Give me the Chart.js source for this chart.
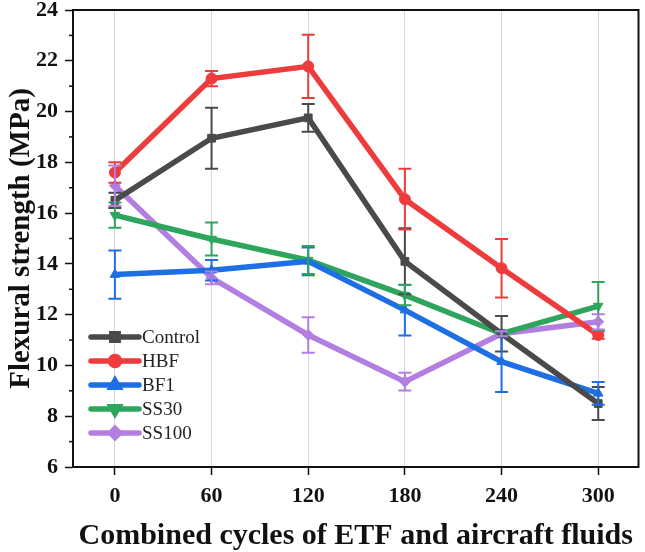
<!DOCTYPE html>
<html>
<head>
<meta charset="utf-8">
<script src="https://cdn.jsdelivr.net/npm/chart.js@4.4.0/dist/chart.umd.min.js"></script>
<style>
  html, body { margin: 0; padding: 0; background: #fff; }
  #wrap { width: 645px; height: 552px; }
</style>
</head>
<body>
<div id="wrap"><canvas id="flexural" width="645" height="552"></canvas></div>
<script>
// cycles of ETF + aircraft fluids
const cycles = [0, 60, 120, 180, 240, 300];
const yTicks = [6, 8, 10, 12, 14, 16, 18, 20, 22, 24];
const yMinorTicks = [7, 9, 11, 13, 15, 17, 19, 21, 23];

const control = [16.5, 18.95, 19.75, 14.1, 11.25, 8.5];
const controlErr = [0.3, 1.2, 0.55, 1.3, 0.7, 0.65];
const hbf = [17.6, 21.3, 21.78, 16.55, 13.83, 11.2];
const hbfErr = [0.4, 0.3, 1.25, 1.2, 1.15, 0.15];
const bf1 = [13.58, 13.75, 14.1, 12.18, 10.15, 8.9];
const bf1Err = [0.95, 0.4, 0.55, 1.0, 1.2, 0.45];
const ss30 = [15.92, 14.98, 14.15, 12.77, 11.25, 12.34];
const ss30Err = [0.5, 0.65, 0.55, 0.4, 0.1, 0.95];
const ss100 = [17.08, 13.45, 11.2, 9.36, 11.25, 11.72];
const ss100Err = [0.8, 0.25, 0.7, 0.35, 0.1, 0.3];

const seriesNames = ["Control", "HBF", "BF1", "SS30", "SS100"];
const seriesColors = ["#4a4a4a", "#ee3b3b", "#1d6fe3", "#2ea55c", "#b27fe0"];

const serif = "'Liberation Serif', 'Times New Roman', serif";

function makeSet(i, values, errs, pointStyle, rotation) {
  return {
    label: seriesNames[i],
    data: cycles.map((c, k) => ({ x: c, y: values[k] })),
    errors: errs,
    borderColor: seriesColors[i],
    backgroundColor: seriesColors[i],
    borderWidth: 5.5,
    pointStyle: pointStyle,
    rotation: rotation || 0,
    pointRadius: 5.5,
    pointBorderWidth: 1,
    tension: 0,
  };
}

// error bars drawn with the scales
const errorBars = {
  id: "errorBars",
  afterDatasetsDraw(chart) {
    const ctx = chart.ctx;
    const xs = chart.scales.x, ys = chart.scales.y;
    chart.data.datasets.forEach((ds) => {
      ctx.save();
      ctx.strokeStyle = ds.borderColor;
      ctx.lineWidth = 2;
      ds.data.forEach((p, k) => {
        const e = ds.errors[k];
        const px = xs.getPixelForValue(p.x);
        const top = ys.getPixelForValue(p.y + e);
        const bot = ys.getPixelForValue(p.y - e);
        ctx.beginPath();
        ctx.moveTo(px, top); ctx.lineTo(px, bot);
        ctx.moveTo(px - 6.5, top); ctx.lineTo(px + 6.5, top);
        ctx.moveTo(px - 6.5, bot); ctx.lineTo(px + 6.5, bot);
        ctx.stroke();
      });
      ctx.restore();
    });
  },
};

// frame, minor ticks, legend inside plot
const decorations = {
  id: "decorations",
  afterDraw(chart) {
    const ctx = chart.ctx;
    const a = chart.chartArea;
    const ys = chart.scales.y;
    ctx.save();
    ctx.strokeStyle = "#111";
    ctx.lineWidth = 2;
    ctx.strokeRect(a.left, a.top, a.right - a.left, a.bottom - a.top);
    ctx.lineWidth = 1.5;
    yMinorTicks.forEach((v) => {
      const py = ys.getPixelForValue(v);
      ctx.beginPath();
      ctx.moveTo(a.left - 4, py);
      ctx.lineTo(a.left, py);
      ctx.stroke();
    });

    const lx = a.left + 18, ly = 337, gap = 24;
    chart.data.datasets.forEach((ds, i) => {
      const y = ly + i * gap;
      ctx.strokeStyle = ds.borderColor;
      ctx.lineWidth = 5.5;
      ctx.lineCap = "round";
      ctx.beginPath();
      ctx.moveTo(lx, y);
      ctx.lineTo(lx + 48, y);
      ctx.stroke();
      ctx.fillStyle = ds.backgroundColor;
      Chart.helpers.drawPoint(ctx, {
        pointStyle: ds.pointStyle,
        rotation: ds.rotation,
        radius: 4.5,
        borderWidth: 1,
      }, lx + 24, y);
      ctx.fillStyle = "#222";
      ctx.font = "19px " + serif;
      ctx.textBaseline = "middle";
      ctx.fillText(ds.label, lx + 51, y + 1);
    });
    ctx.restore();
  },
};

new Chart(document.getElementById("flexural"), {
  type: "line",
  data: {
    datasets: [
      makeSet(0, control, controlErr, "rect"),
      makeSet(1, hbf, hbfErr, "circle"),
      makeSet(2, bf1, bf1Err, "triangle"),
      makeSet(3, ss30, ss30Err, "triangle", 180),
      makeSet(4, ss100, ss100Err, "rectRot"),
    ],
  },
  options: {
    responsive: false,
    animation: false,
    layout: { padding: { top: 10, right: 1, left: 0, bottom: 0 } },
    plugins: { legend: { display: false }, tooltip: { enabled: false } },
    scales: {
      x: {
        type: "linear",
        min: -26,
        max: 325,
        afterBuildTicks: (scale) => {
          scale.ticks = cycles.map((v) => ({ value: v }));
        },
        afterFit: (scale) => {
          scale.height = 85;
          scale.paddingLeft = 0;
          scale.paddingRight = 0;
        },
        grid: {
          color: "#d6d6d6",
          lineWidth: 1,
          tickColor: "#111",
          tickLength: 8,
          tickWidth: 1.5,
        },
        border: { color: "#111", width: 2 },
        ticks: {
          color: "#111",
          font: { family: serif, size: 22, weight: "bold" },
          padding: 8,
        },
        title: {
          display: true,
          text: "Combined cycles of ETF and aircraft fluids",
          color: "#111",
          font: { family: serif, size: 30, weight: "bold", lineHeight: 1.05 },
          padding: { top: 14, bottom: 0 },
        },
      },
      y: {
        min: 6,
        max: 24,
        afterBuildTicks: (scale) => {
          scale.ticks = yTicks.map((v) => ({ value: v }));
        },
        afterFit: (scale) => {
          scale.width = 73;
          scale.paddingTop = 0;
          scale.paddingBottom = 0;
        },
        grid: {
          drawOnChartArea: false,
          tickColor: "#111",
          tickLength: 8,
          tickWidth: 1.5,
        },
        border: { color: "#111", width: 2 },
        ticks: {
          color: "#111",
          font: { family: serif, size: 22, weight: "bold" },
          padding: 7,
        },
        title: {
          display: true,
          text: "Flexural strength (MPa)",
          color: "#111",
          font: { family: serif, size: 29, weight: "bold" },
          padding: { top: 4, bottom: 0 },
        },
      },
    },
  },
  plugins: [errorBars, decorations],
});
</script>
</body>
</html>
